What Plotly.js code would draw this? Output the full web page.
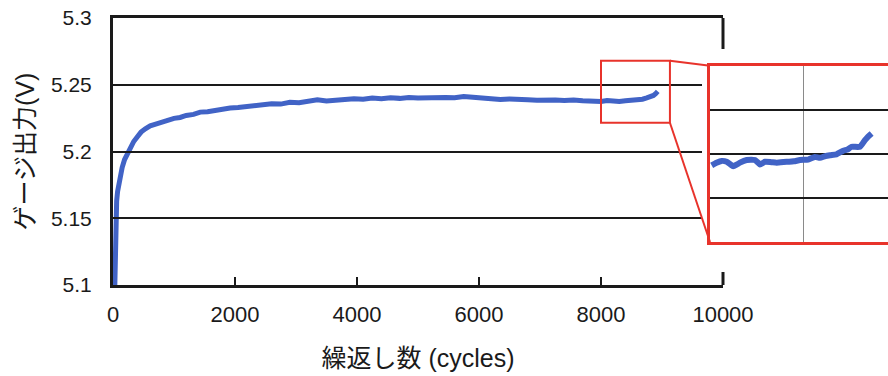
<!DOCTYPE html>
<html>
<head>
<meta charset="utf-8">
<script src="https://cdn.plot.ly/plotly-3.0.1.min.js"></script>
<style>
html,body{margin:0;padding:0;background:#fff;}
#chart{width:888px;height:376px;}
</style>
</head>
<body>
<div id="chart"></div>
<script>
// ---- data ----
const cycles = [30, 40, 50, 60, 75, 95, 120, 150, 190, 240, 280, 340, 400, 460, 530, 610, 700, 800, 900,
  1000, 1100, 1200, 1320, 1430, 1550, 1680, 1800, 1920, 2050, 2180, 2300, 2450, 2600, 2750, 2900,
  3050, 3200, 3350, 3500, 3650, 3800, 3950, 4100, 4250, 4400, 4550, 4700, 4850, 5000, 5150, 5300,
  5450, 5600, 5750, 5900, 6050, 6200, 6350, 6500, 6650, 6800, 6950, 7100, 7250, 7400, 7550, 7700,
  7850, 8000, 8100, 8200, 8300, 8400, 8500, 8600, 8680, 8750, 8810, 8860, 8900, 8930];
const voltage = [5.100, 5.130, 5.152, 5.163, 5.170, 5.176, 5.182, 5.188, 5.194, 5.199, 5.2035, 5.2075, 5.211, 5.2145, 5.2170, 5.2192, 5.2205, 5.2222, 5.2232,
  5.2248, 5.2255, 5.2270, 5.2278, 5.2295, 5.2298, 5.2310, 5.2315, 5.2326, 5.2330, 5.2338, 5.2345, 5.2348, 5.2358, 5.2355, 5.2368,
  5.2365, 5.2375, 5.2388, 5.2378, 5.2386, 5.2390, 5.2395, 5.2392, 5.2400, 5.2396, 5.2402, 5.2398, 5.2405, 5.2400, 5.2404, 5.2399,
  5.2405, 5.2402, 5.2412, 5.2406, 5.2398, 5.2395, 5.2390, 5.2393, 5.2386, 5.2388, 5.2384, 5.2389, 5.2385, 5.2382, 5.2386, 5.2380,
  5.2376, 5.2374, 5.2382, 5.2378, 5.2374, 5.2380, 5.2382, 5.2388, 5.2392, 5.2402, 5.2410, 5.2420, 5.2435, 5.2450];

const insetCycles = [8009, 8035, 8063, 8090, 8110, 8125, 8145, 8161, 8197, 8242, 8269, 8296, 8330, 8358, 8412, 8450,
  8484, 8528, 8564, 8591, 8620, 8645, 8680, 8716, 8740, 8761, 8806, 8833, 8850, 8869];
const insetVoltage = [5.2374, 5.2380, 5.2384, 5.2382, 5.2376, 5.2372, 5.2376, 5.2380, 5.2386, 5.2386, 5.2376, 5.2382, 5.2381, 5.2380, 5.2382, 5.2383,
  5.2386, 5.2387, 5.2393, 5.2391, 5.2395, 5.2397, 5.2399, 5.2407, 5.2410, 5.2416, 5.2416, 5.2431, 5.2439, 5.2446];

const xTicks = [0, 2000, 4000, 6000, 8000, 10000];
const yTicks = [5.1, 5.15, 5.2, 5.25, 5.3];
const insetYTicks = [5.22, 5.23, 5.24, 5.25, 5.26];
const insetXTicks = [8000, 8500];
const zoomBoxCycles = [8000, 9130];
const zoomBoxVoltage = [5.2215, 5.268];

const xTitle = '繰返し数 (cycles)';
const yTitle = 'ゲージ出力(V)';

// ---- layout geometry ----
const W = 888, H = 376;
const mL = 113, mR = 0, mT = 18, mB = 91;
const pw = W - mL - mR, ph = H - mT - mB;
const px = v => (v - mL) / pw;          // pixel x -> paper
const py = v => (H - mB - v) / ph;      // pixel y -> paper

const mainDom = [0, px(723)];
const gridDom = [0, px(702)];
const insetXDom = [px(710), 1];
const insetYDom = [py(242), py(65.7)];
const xRange = [0, 10000], yRange = [5.1, 5.3];
const insetXRange = [8000, 8000 + (W - 710) / 0.186];
const insetYRange = [5.22, 5.26];

const toPaperX = v => mainDom[0] + (v - xRange[0]) / (xRange[1] - xRange[0]) * (mainDom[1] - mainDom[0]);
const toPaperY = v => (v - yRange[0]) / (yRange[1] - yRange[0]);

const blue = '#4163c6';
const red = '#e8332b';
const ink = '#1a1a1a';
const fontFam = 'Liberation Sans, Arial, Noto Sans CJK JP, sans-serif';

const traces = [
  {x: cycles, y: voltage, xaxis: 'x', yaxis: 'y', mode: 'lines',
   line: {color: blue, width: 5}, hoverinfo: 'skip', showlegend: false},
  {x: insetCycles, y: insetVoltage, xaxis: 'x2', yaxis: 'y2', mode: 'lines',
   line: {color: blue, width: 6, shape: 'spline', smoothing: 0.5}, hoverinfo: 'skip', showlegend: false},
  {x: [null], y: [null], xaxis: 'x3', yaxis: 'y3', mode: 'lines', hoverinfo: 'skip', showlegend: false}
];

const layout = {
  width: W, height: H,
  margin: {l: mL, r: mR, t: mT, b: mB},
  paper_bgcolor: '#fff', plot_bgcolor: 'rgba(0,0,0,0)',
  font: {family: fontFam, color: ink},
  showlegend: false,
  xaxis: {
    domain: mainDom, range: xRange, anchor: 'y',
    tickmode: 'array', tickvals: xTicks, ticktext: xTicks.map(String),
    ticks: 'inside', ticklen: 8, tickwidth: 2, tickcolor: ink,
    showgrid: false, zeroline: false,
    showline: true, linecolor: ink, linewidth: 3, mirror: true,
    tickfont: {size: 22, color: ink}, ticklabelstandoff: 8,
    title: {text: xTitle, font: {size: 25, color: ink}, standoff: 24}
  },
  yaxis: {
    domain: [0, 1], range: yRange, anchor: 'x',
    tickmode: 'array', tickvals: yTicks, ticktext: yTicks.map(String),
    ticks: '', showgrid: false, zeroline: false,
    showline: true, linecolor: ink, linewidth: 3, mirror: false,
    tickfont: {size: 21, color: ink}, ticklabelstandoff: 14,
    title: {text: yTitle, font: {size: 25, color: ink}, standoff: 10}
  },
  xaxis3: {
    domain: gridDom, range: xRange, anchor: 'y3',
    showgrid: false, zeroline: false, showline: false, showticklabels: false, ticks: ''
  },
  yaxis3: {
    domain: [0, 1], range: yRange, anchor: 'x3',
    tickmode: 'array', tickvals: yTicks.slice(1, -1),
    showgrid: true, gridcolor: ink, gridwidth: 2,
    zeroline: false, showline: false, showticklabels: false, ticks: ''
  },
  xaxis2: {
    domain: insetXDom, range: insetXRange, anchor: 'y2',
    tickmode: 'array', tickvals: insetXTicks,
    showgrid: true, gridcolor: '#8a8a8a', gridwidth: 1,
    zeroline: false, showticklabels: false, ticks: '',
    showline: true, linecolor: red, linewidth: 3, mirror: true
  },
  yaxis2: {
    domain: insetYDom, range: insetYRange, anchor: 'x2',
    tickmode: 'array', tickvals: insetYTicks.slice(1, -1),
    showgrid: true, gridcolor: ink, gridwidth: 2,
    zeroline: false, showticklabels: false, ticks: '',
    showline: true, linecolor: red, linewidth: 3, mirror: false
  },
  shapes: [
    // zoom box in the main chart
    {type: 'rect', xref: 'x', yref: 'y', x0: zoomBoxCycles[0], x1: zoomBoxCycles[1],
     y0: zoomBoxVoltage[0], y1: zoomBoxVoltage[1], line: {color: red, width: 2}, layer: 'above'},
    // connectors
    {type: 'line', xref: 'paper', yref: 'paper',
     x0: toPaperX(zoomBoxCycles[1]), y0: toPaperY(zoomBoxVoltage[1]),
     x1: insetXDom[0], y1: insetYDom[1], line: {color: red, width: 2}},
    {type: 'line', xref: 'paper', yref: 'paper',
     x0: toPaperX(zoomBoxCycles[1]), y0: toPaperY(zoomBoxVoltage[0]),
     x1: insetXDom[0], y1: insetYDom[0], line: {color: red, width: 2}},
    // right border pieces of the main frame
    {type: 'line', xref: 'paper', yref: 'paper', x0: mainDom[1], x1: mainDom[1],
     y0: py(49), y1: 1, line: {color: ink, width: 3}},
    {type: 'line', xref: 'paper', yref: 'paper', x0: mainDom[1], x1: mainDom[1],
     y0: 0, y1: py(272), line: {color: ink, width: 3}}
  ]
};

Plotly.newPlot('chart', traces, layout, {staticPlot: true, displayModeBar: false});
</script>
</body>
</html>
